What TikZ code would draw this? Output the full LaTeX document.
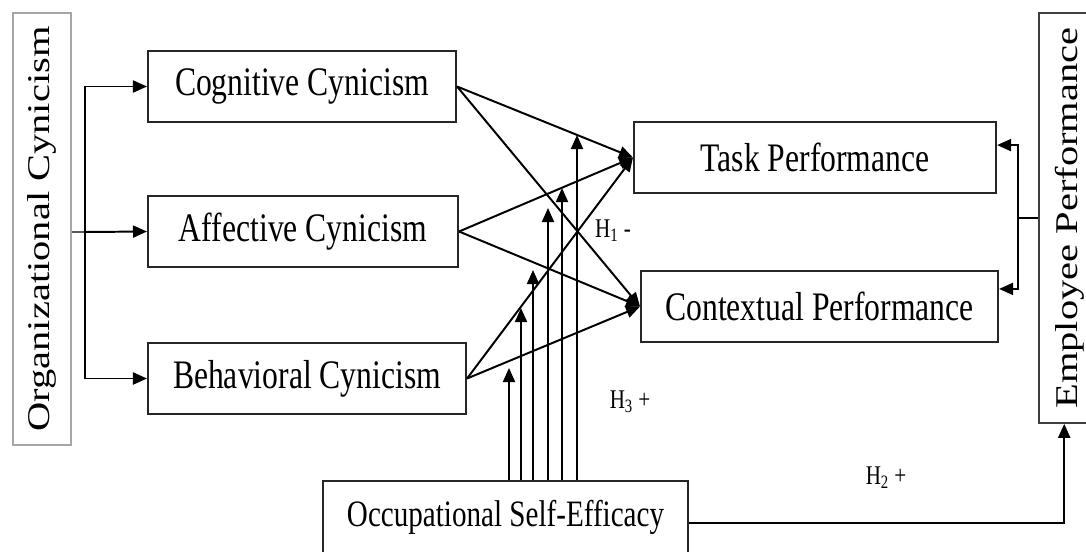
\documentclass[tikz,border=0pt]{standalone}
\usepackage{fontspec}
\setmainfont{Liberation Serif}
\usepackage{graphicx}
\usetikzlibrary{positioning,arrows.meta}

\newcommand{\tall}[1]{\scalebox{1}[1.28]{#1}}
\newcommand{\wide}[1]{\scalebox{1.28}[1]{#1}}

\begin{document}
\begin{tikzpicture}[x=0.025cm,y=-0.025cm,font=\fontsize{22.5}{27}\selectfont,
    box/.style={rectangle,draw=black!85,line width=1.4pt,inner sep=0pt,minimum height=1.775cm,above right},
    link/.style={line width=1.4pt,-{Triangle[length=0.35cm,width=0.3cm]}},
    hyp/.style={font=\fontsize{15}{18}\selectfont}]
      \useasboundingbox (0,0) rectangle (1086,552);

      %outer constructs
      \node[rectangle,draw=gray!70,line width=0.8pt,rotate=90,minimum width=10.8cm,minimum height=1.45cm] (org) at (42,229) {\wide{Organizational Cynicism}};
      \node[rectangle,draw=black!75,line width=1.1pt,rotate=90,minimum width=10.25cm,minimum height=1.55cm] (emp) at (1070,218) {\wide{Employee Performance}};

      %cynicism dimensions
      \node[box,minimum width=7.7cm] (cog) at (147,123) {\tall{Cognitive Cynicism}};
      \node[box,minimum width=7.75cm] (aff) at (147,268) {\tall{Affective Cynicism}};
      \node[box,minimum width=7.95cm] (beh) at (147,415) {\tall{Behavioral Cynicism}};

      %performance dimensions
      \node[box,minimum width=9.05cm] (task) at (633,194) {\tall{Task Performance}};
      \node[box,minimum width=8.925cm] (ctx) at (640,343) {\tall{Contextual Performance}};

      %moderator
      \node[box,minimum width=9.125cm,minimum height=1.825cm,font=\fontsize{20.7}{25}\selectfont] (ose) at (322,555) {\tall{Occupational Self-Efficacy}};

      %hypotheses
      \node[hyp] (h1) at (613,231) {\tall{H\textsubscript{1} -}};
      \node[hyp] (h3) at (630,402) {\tall{H\textsubscript{3} +}};
      \node[hyp] (h2) at (886,478) {\tall{H\textsubscript{2} +}};

      %organizational cynicism to its dimensions
      \coordinate (trunk) at (85,232);
      \draw[gray!70!black,line width=1.4pt] (org.south |- trunk) -- (trunk);
      \draw[link] (trunk) -- (aff.west);
      \draw[link] (trunk) |- (cog.west);
      \draw[link] (trunk) |- (beh.west);

      %cynicism to performance
      \foreach \a in {cog,aff,beh}
        \foreach \b in {task,ctx}
          \draw[link] (\a.east) -- (\b.west);

      %self-efficacy moderating the paths
      \foreach \x/\y in {509/368,521/308,533/270,548/208,562/188,577/135}
        \draw[link] (ose.north -| \x,\y) -- (\x,\y);

      %employee performance
      \coordinate (split) at (1018,218);
      \draw[line width=1.4pt] (emp.north |- split) -- (split);
      \draw[link] (split) |- ([yshift=0.31cm]task.east);
      \draw[link] (split) |- ([yshift=0.44cm]ctx.east);
      \draw[link] ([yshift=-0.14cm]ose.east) -| ([xshift=0.65cm]emp.north west);

    \end{tikzpicture}
\end{document}
